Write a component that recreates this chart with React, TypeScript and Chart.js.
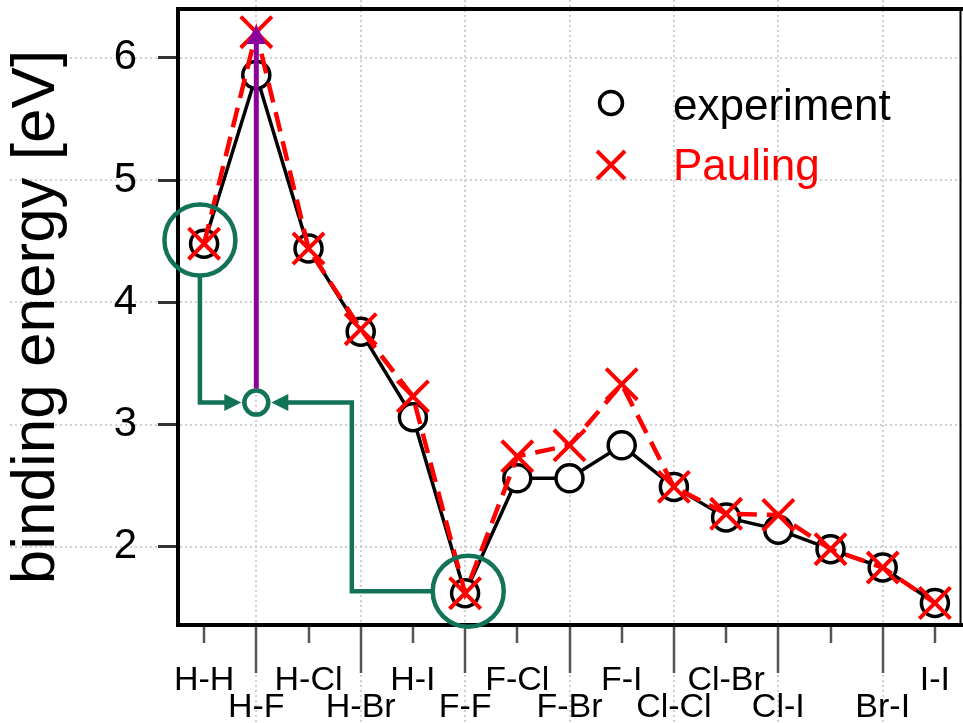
import React, { useEffect, useRef } from "react";
import { Chart, registerables } from "chart.js";

Chart.register(...registerables);

// ---- data ----
const bonds = ["H-H", "H-F", "H-Cl", "H-Br", "H-I", "F-F", "F-Cl", "F-Br", "F-I", "Cl-Cl", "Cl-Br", "Cl-I", "Br-Br", "Br-I", "I-I"];
const experiment = [4.48, 5.86, 4.44, 3.76, 3.06, 1.62, 2.56, 2.56, 2.83, 2.49, 2.24, 2.14, 1.98, 1.83, 1.54];
const pauling = [4.48, 6.21, 4.44, 3.78, 3.23, 1.62, 2.74, 2.83, 3.33, 2.49, 2.27, 2.26, 1.98, 1.83, 1.54];
const yTicks = [2, 3, 4, 5, 6];
const hiddenLabels = ["Br-Br"];
const seriesNames = ["experiment", "Pauling"];
const yTitle = "binding energy [eV]";

const FONT = "'Liberation Sans', Arial, Helvetica, sans-serif";
const GREEN = "#137358";
const PURPLE = "#8c009b";
const RED = "#ff0000";

const gridPlugin = {
  id: "bgGrid",
  beforeDraw(chart: any) {
    const { ctx, width, height } = chart;
    const x = chart.scales.x;
    const y = chart.scales.y;
    ctx.save();
    ctx.fillStyle = "#ffffff";
    ctx.fillRect(0, 0, width, height);
    ctx.strokeStyle = "#c2c2c2";
    ctx.lineWidth = 1.5;
    ctx.setLineDash([2, 3]);
    yTicks.forEach((v) => {
      const py = Math.round(y.getPixelForValue(v));
      ctx.beginPath();
      ctx.moveTo(10, py);
      ctx.lineTo(width, py);
      ctx.stroke();
    });
    bonds.forEach((_, i) => {
      if (i % 2 === 1) {
        const px = Math.round(x.getPixelForValue(i));
        ctx.beginPath();
        ctx.moveTo(px, 0);
        ctx.lineTo(px, height);
        ctx.stroke();
      }
    });
    ctx.restore();
  },
};

function arrowHead(ctx: any, tx: number, ty: number, dx: number, dy: number, len: number, half: number) {
  const bx = tx - dx * len;
  const by = ty - dy * len;
  ctx.beginPath();
  ctx.moveTo(tx, ty);
  ctx.lineTo(bx - dy * half, by + dx * half);
  ctx.lineTo(bx + dy * half, by - dx * half);
  ctx.closePath();
  ctx.fill();
}

const overlayPlugin = {
  id: "overlay",
  afterDraw(chart: any) {
    const { ctx, chartArea } = chart;
    const x = chart.scales.x;
    const y = chart.scales.y;
    const { left, right, top, bottom } = chartArea;
    ctx.save();

    // frame
    ctx.setLineDash([]);
    ctx.strokeStyle = "#000";
    ctx.lineCap = "square";
    ctx.lineWidth = 4;
    ctx.beginPath();
    ctx.moveTo(left, top);
    ctx.lineTo(right + 2, top);
    ctx.moveTo(left, top);
    ctx.lineTo(left, bottom);
    ctx.moveTo(left, bottom);
    ctx.lineTo(right + 2, bottom);
    ctx.stroke();
    ctx.lineWidth = 2;
    ctx.lineCap = "butt";
    ctx.beginPath();
    ctx.moveTo(right - 0.5, top);
    ctx.lineTo(right - 0.5, bottom);
    ctx.stroke();

    // x tick marks (short / long alternating)
    ctx.strokeStyle = "#555";
    ctx.lineWidth = 2.5;
    bonds.forEach((_, i) => {
      const px = Math.round(x.getPixelForValue(i));
      ctx.beginPath();
      ctx.moveTo(px, bottom + 2);
      ctx.lineTo(px, bottom + (i % 2 === 1 ? 48 : 18));
      ctx.stroke();
    });

    // legend
    ctx.strokeStyle = "#000";
    ctx.lineWidth = 3.5;
    ctx.beginPath();
    ctx.arc(611, 103, 11.5, 0, Math.PI * 2);
    ctx.stroke();
    ctx.strokeStyle = RED;
    ctx.lineWidth = 4;
    ctx.beginPath();
    ctx.moveTo(597, 151);
    ctx.lineTo(625, 179);
    ctx.moveTo(625, 151);
    ctx.lineTo(597, 179);
    ctx.stroke();
    ctx.font = `44px ${FONT}`;
    ctx.textBaseline = "alphabetic";
    ctx.textAlign = "left";
    ctx.fillStyle = "#000";
    ctx.fillText(seriesNames[0], 673, 120);
    ctx.fillStyle = RED;
    ctx.fillText(seriesNames[1], 673, 180);

    // annotations
    const c1x = x.getPixelForValue(-0.08);
    const c1y = y.getPixelForValue(4.51);
    const c2x = x.getPixelForValue(5.06);
    const c2y = y.getPixelForValue(1.636);
    const sx = x.getPixelForValue(1);
    const sy = y.getPixelForValue(3.18);
    const R = 35.5;
    const r = 12;
    const routeX = x.getPixelForValue(2.83);

    ctx.strokeStyle = GREEN;
    ctx.fillStyle = GREEN;
    ctx.lineWidth = 4.5;
    ctx.lineCap = "butt";
    ctx.lineJoin = "miter";
    ctx.beginPath();
    ctx.arc(c1x, c1y, R, 0, Math.PI * 2);
    ctx.stroke();
    ctx.beginPath();
    ctx.arc(c2x, c2y, R, 0, Math.PI * 2);
    ctx.stroke();
    ctx.beginPath();
    ctx.arc(sx, sy, r, 0, Math.PI * 2);
    ctx.stroke();

    const lt = sx - r - 3;
    ctx.beginPath();
    ctx.moveTo(c1x, c1y + R);
    ctx.lineTo(c1x, sy);
    ctx.lineTo(lt - 12, sy);
    ctx.stroke();
    arrowHead(ctx, lt, sy, 1, 0, 17, 8.5);

    const rt = sx + r + 3;
    ctx.beginPath();
    ctx.moveTo(c2x - R, c2y);
    ctx.lineTo(routeX, c2y);
    ctx.lineTo(routeX, sy);
    ctx.lineTo(rt + 12, sy);
    ctx.stroke();
    arrowHead(ctx, rt, sy, -1, 0, 17, 8.5);

    const tipY = y.getPixelForValue(6.27);
    ctx.strokeStyle = PURPLE;
    ctx.fillStyle = PURPLE;
    ctx.lineWidth = 5;
    ctx.beginPath();
    ctx.moveTo(sx, sy - r - 2);
    ctx.lineTo(sx, tipY + 15);
    ctx.stroke();
    arrowHead(ctx, sx, tipY, 0, -1, 19, 10);

    ctx.restore();
  },
};

function zeroPad(s: any) {
  s.paddingTop = 0;
  s.paddingBottom = 0;
  s.paddingLeft = 0;
  s.paddingRight = 0;
}

export default function App() {
  const canvasRef = useRef<HTMLCanvasElement | null>(null);

  useEffect(() => {
    const canvas = canvasRef.current;
    if (!canvas) return;
    const chart = new Chart(canvas, {
      type: "line",
      data: {
        labels: bonds,
        datasets: [
          {
            label: seriesNames[0],
            data: experiment,
            borderColor: "#000",
            borderWidth: 3.5,
            pointStyle: "circle",
            pointRadius: 13.5,
            pointBorderWidth: 3.5,
            pointBorderColor: "#000",
            pointBackgroundColor: "#fff",
            tension: 0,
            order: 1,
            clip: false,
          } as any,
          {
            label: seriesNames[1],
            data: pauling,
            borderColor: RED,
            borderWidth: 4.5,
            borderDash: [20, 10],
            pointStyle: "crossRot",
            pointRadius: 22,
            pointBorderWidth: 4,
            pointBorderColor: RED,
            pointBackgroundColor: RED,
            tension: 0,
            order: 0,
            clip: false,
          } as any,
        ],
      },
      options: {
        animation: false,
        responsive: false,
        events: [],
        layout: { autoPadding: false, padding: { top: 9, right: 2, left: 0, bottom: 0 } },
        plugins: {
          legend: { display: false },
          tooltip: { enabled: false },
        },
        scales: {
          x: {
            type: "category",
            offset: true,
            afterFit: (s: any) => {
              s.height = 98;
              zeroPad(s);
            },
            border: { display: false },
            grid: { display: false, drawTicks: false },
            ticks: {
              autoSkip: false,
              maxRotation: 0,
              minRotation: 0,
              padding: 42,
              color: "#000",
              font: { family: FONT, size: 34, lineHeight: "27px" } as any,
              callback: (_v: any, i: number) => {
                const l = bonds[i];
                if (hiddenLabels.includes(l)) return "";
                return i % 2 === 0 ? [l] : ["", l];
              },
            },
          },
          y: {
            min: 1.36,
            max: 6.4,
            afterBuildTicks: (s: any) => {
              s.ticks = yTicks.map((v) => ({ value: v }));
            },
            afterFit: (s: any) => {
              s.width = 178;
              zeroPad(s);
            },
            border: { display: false },
            grid: {
              drawOnChartArea: false,
              drawTicks: true,
              tickLength: 20,
              tickWidth: 3,
              tickColor: "#333",
            },
            ticks: {
              padding: 21,
              color: "#000",
              font: { family: FONT, size: 42 },
            },
            title: {
              display: true,
              text: yTitle,
              color: "#000",
              font: { family: FONT, size: 62 },
              padding: { top: 0, bottom: 0 },
            },
          },
        },
      } as any,
      plugins: [gridPlugin, overlayPlugin],
    });
    return () => chart.destroy();
  }, []);

  return (
    <div style={{ position: "fixed", left: 0, top: 0, width: 963, height: 723, background: "#fff" }}>
      <canvas ref={canvasRef} width={963} height={723} style={{ display: "block" }} />
    </div>
  );
}
